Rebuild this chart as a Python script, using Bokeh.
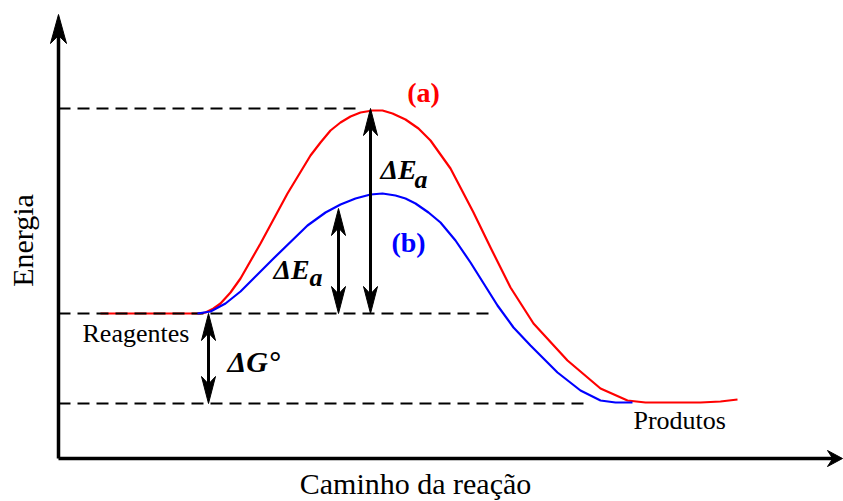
import numpy as np
from bokeh.plotting import figure
from bokeh.models import Range1d
from bokeh.core.properties import value
from bokeh.embed import file_html
from bokeh.resources import INLINE

# ---- data (arbitrary units: reaction coordinate, energy) ----
red_x = [42, 142, 147, 155, 162, 172, 182, 202, 229, 252, 262, 272, 282, 292, 302,
         314, 324, 334, 347, 360, 372, 392, 415, 432, 452, 475, 509, 542, 569, 587,
         642, 662, 679]
red_y = [145, 145, 146, 150, 155, 166, 180, 215, 265, 303, 316, 328, 336, 342, 346,
         348, 348, 345, 339, 330, 318, 290, 246, 211, 171, 135, 98, 70, 58, 56,
         56, 57, 59]

blue_x = [139, 152, 167, 182, 215, 249, 267, 282, 297, 312, 324, 337, 347, 357, 370,
          382, 397, 412, 439, 455, 472, 499, 522, 542, 557, 574]
blue_y = [145, 147, 155, 167, 200, 233, 246, 254, 260, 264, 265, 263, 260, 255, 246,
          236, 218, 196, 153, 131, 113, 86, 68, 58, 56, 56]

# reference levels (energy) and their dashed extents (reaction coordinate)
level_y = [350, 145, 55]
level_x_end = [302, 437, 530]

# double arrows: x position, lower energy, upper energy
arrow_x = [150, 312, 280]
arrow_lo = [55, 145, 145]
arrow_hi = [145, 350, 250]

axis_x_max = 784
axis_y_max = 444

BLACK = "#000000"
RED = "#ff0000"
BLUE = "#0000ff"
SERIF = value("Liberation Serif")

p = figure(width=843, height=501, output_backend="svg", toolbar_location=None,
           x_range=Range1d(-58, 785), y_range=Range1d(-43, 458),
           x_axis_location=None, y_axis_location=None, min_border=0)
p.min_border_left = p.min_border_right = p.min_border_top = p.min_border_bottom = 0
p.grid.visible = False
p.outline_line_color = None
p.background_fill_color = "white"
p.border_fill_color = "white"


def head(xt, yt, dx, dy, L=27, w=7, notch=0.72):
    # arrow head polygon; (dx,dy) unit direction pointing to tip
    px_, py_ = -dy, dx
    bx, by = xt - dx * L, yt - dy * L
    nx, ny = xt - dx * L * notch, yt - dy * L * notch
    xs = [xt, bx + px_ * w, nx, bx - px_ * w]
    ys = [yt, by + py_ * w, ny, by - py_ * w]
    return xs, ys


# curves
p.line(red_x, red_y, line_color=RED, line_width=2.2, line_join="round")

# dashed levels
for ly, le in zip(level_y, level_x_end):
    p.line([0, le], [ly, ly], line_color=BLACK, line_width=2, line_dash="12 7")

p.line(blue_x, blue_y, line_color=BLUE, line_width=2.2, line_join="round")

# axes as arrows
p.line([0, axis_x_max - 8], [0, 0], line_color=BLACK, line_width=3.5)
p.line([0, 0], [0, axis_y_max - 8], line_color=BLACK, line_width=3.5)
hx, hy = head(axis_x_max, 0, 1, 0, L=15, w=8, notch=0.65)
p.patch(hx, hy, fill_color=BLACK, line_color=BLACK, line_width=1)
hx, hy = head(0, axis_y_max, 0, 1, L=29, w=8, notch=0.72)
p.patch(hx, hy, fill_color=BLACK, line_color=BLACK, line_width=1)

# double arrows
for ax, lo, hi in zip(arrow_x, arrow_lo, arrow_hi):
    p.line([ax, ax], [lo + 15, hi - 15], line_color=BLACK, line_width=3)
    hx, hy = head(ax, hi, 0, 1)
    p.patch(hx, hy, fill_color=BLACK, line_color=BLACK, line_width=1)
    hx, hy = head(ax, lo, 0, -1)
    p.patch(hx, hy, fill_color=BLACK, line_color=BLACK, line_width=1)

# texts
p.text(x=[-36], y=[218], text=["Energia"], angle=np.pi / 2, text_font=SERIF,
       text_font_size="30px", text_align="center", text_baseline="middle", text_color=BLACK)
p.text(x=[357], y=[-25], text=["Caminho da reação"], text_font=SERIF,
       text_font_size="30px", text_align="center", text_baseline="alphabetic", text_color=BLACK)
p.text(x=[24], y=[125], text=["Reagentes"], text_font=SERIF, text_font_size="26px",
       text_align="left", text_baseline="alphabetic", text_color=BLACK)
p.text(x=[575], y=[38], text=["Produtos"], text_font=SERIF, text_font_size="26px",
       text_align="left", text_baseline="alphabetic", text_color=BLACK)
p.text(x=[365], y=[366], text=["(a)"], text_font=SERIF, text_font_size="28px",
       text_font_style="bold", text_align="center", text_baseline="middle", text_color=RED)
p.text(x=[350], y=[216], text=["(b)"], text_font=SERIF, text_font_size="28px",
       text_font_style="bold", text_align="center", text_baseline="middle", text_color=BLUE)

p.text(x=[322, 215], y=[289, 189], text=["ΔE", "ΔE"], text_font=SERIF, text_font_size="28px",
       text_font_style="bold italic", text_align="left", text_baseline="alphabetic", text_color=BLACK)
p.text(x=[356, 251], y=[279, 181], text=["a", "a"], text_font=SERIF, text_font_size="26px",
       text_font_style="bold italic", text_align="left", text_baseline="alphabetic", text_color=BLACK)
p.text(x=[169], y=[97], text=["ΔG°"], text_font=SERIF, text_font_size="30px",
       text_font_style="bold italic", text_align="left", text_baseline="alphabetic", text_color=BLACK)

open("out.html", "w").write(file_html(p, INLINE))
